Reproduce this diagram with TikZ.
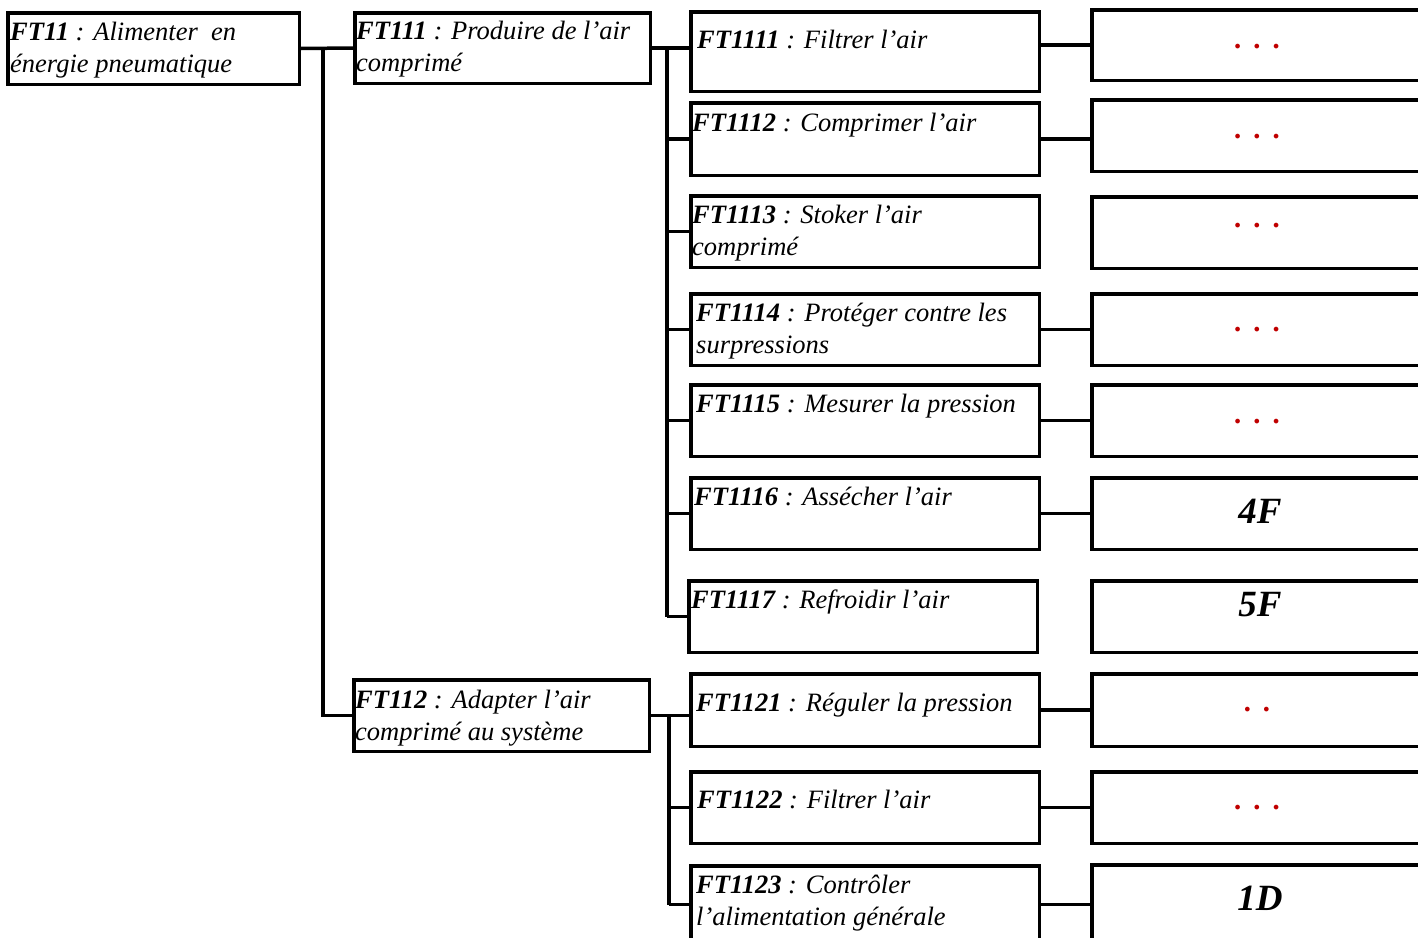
\documentclass[tikz,border=0pt]{standalone}
\usepackage{fontspec}
\setmainfont{Liberation Serif}
\definecolor{dotred}{HTML}{C00000}
\newcommand\mybox[5]{\node[boxst, minimum width={#4-#2-3.5}, minimum height={#5-#3-3.5}] (#1) at ({(#2+#4)/2},{(#3+#5)/2}) {};}
\newcommand\twolines[2]{\vtop{\hbox{\strut #1}\hbox{\strut #2}}}
\newcommand\reddots{.\hspace{12pt}.\hspace{12pt}.}
\newcommand\redtwodots{.\hspace{12pt}.}
\begin{document}
\begin{tikzpicture}[x=1pt, y=-1pt,
  boxst/.style={draw, line width=3.5pt, inner sep=0pt, rectangle},
  conn/.style={line width=3.5pt},
  txt/.style={inner sep=0pt, anchor=base west, font=\fontsize{26.5}{32}\selectfont\itshape},
  big/.style={inner sep=0pt, anchor=center, font=\fontsize{37}{44}\selectfont\bfseries\itshape},
  dts/.style={inner sep=0pt, anchor=base, text=dotred, font=\fontsize{29}{32}\selectfont\bfseries\itshape}]
\useasboundingbox (0,0) rectangle (1418,937);
\clip (0,0) rectangle (1418,937);
% boxes
\mybox{b11}{6}{11}{301}{86}
\mybox{b111}{353}{11}{652}{85}
\mybox{b112}{352}{678}{651}{753}
\mybox{b1111}{689}{10}{1041}{93}
\mybox{b1112}{689}{101}{1041}{177}
\mybox{b1113}{689}{194}{1041}{269}
\mybox{b1114}{689}{292}{1041}{367}
\mybox{b1115}{689}{383}{1041}{458}
\mybox{b1116}{689}{476}{1041}{551}
\mybox{b1117}{687}{579}{1039}{654}
\mybox{b1121}{689}{672}{1041}{748}
\mybox{b1122}{689}{770}{1041}{845}
\mybox{b1123}{689}{864}{1041}{945}
\mybox{r1}{1090}{8}{1430}{82}
\mybox{r2}{1090}{98}{1430}{173}
\mybox{r3}{1090}{195}{1430}{270}
\mybox{r4}{1090}{292}{1430}{367}
\mybox{r5}{1090}{383}{1430}{458}
\mybox{r6}{1090}{476}{1430}{551}
\mybox{r7}{1090}{579}{1430}{654}
\mybox{r8}{1090}{672}{1430}{748}
\mybox{r9}{1090}{770}{1430}{845}
\mybox{r10}{1090}{863}{1430}{945}
% texts
\node[txt] (t11) at (10,40) {\twolines{\textbf{FT11} : Alimenter\ \ en}{énergie pneumatique}};
\node[txt] (t111) at (356,39) {\twolines{\textbf{FT111} : Produire de l’air}{comprimé}};
\node[txt] (t112) at (355,708) {\twolines{\textbf{FT112} : Adapter l’air}{comprimé au système}};
\node[txt] (t1111) at (697,48) {\textbf{FT1111} : Filtrer l’air};
\node[txt] (t1112) at (692,131) {\textbf{FT1112} : Comprimer l’air};
\node[txt] (t1113) at (692,223) {\twolines{\textbf{FT1113} : Stoker l’air}{comprimé}};
\node[txt] (t1114) at (696,321) {\twolines{\textbf{FT1114} : Protéger contre les}{surpressions}};
\node[txt] (t1115) at (696,412) {\textbf{FT1115} : Mesurer la pression};
\node[txt] (t1116) at (694,505) {\textbf{FT1116} : Assécher l’air};
\node[txt] (t1117) at (691,608) {\textbf{FT1117} : Refroidir l’air};
\node[txt] (t1121) at (696,711) {\textbf{FT1121} : Réguler la pression};
\node[txt] (t1122) at (697,808) {\textbf{FT1122} : Filtrer l’air};
\node[txt] (t1123) at (696,893) {\twolines{\textbf{FT1123} : Contrôler}{l’alimentation générale}};
% right texts
\node[dts] (d1) at (1258,48) {\reddots};
\node[dts] (d2) at (1258,138) {\reddots};
\node[dts] (d3) at (1258,227) {\reddots};
\node[dts] (d4) at (1258,331) {\reddots};
\node[dts] (d5) at (1258,423) {\reddots};
\node[big] (l6) at (1260,511) {4F};
\node[big] (l7) at (1260,605) {5F};
\node[dts] (d8) at (1258,711) {\redtwodots};
\node[dts] (d9) at (1258,809) {\reddots};
\node[big] (l10) at (1260,898) {1D};
% connectors level 1
\draw[conn] (b11.east) -- (b111.west);
\coordinate (j1) at (323,48);
\draw[conn] (j1) |- (b112.west);
% FT111 branches
\draw[conn] (b111.east) -- (b111.east -| b1111.west);
\coordinate (j2) at (667,48);
\draw[conn] (j2) -- (j2 |- b1117.west);
\foreach \n in {1112,1113,1114,1115,1116,1117}
  \draw[conn] (j2 |- b\n.west) -- (b\n.west);
% FT112 branches
\draw[conn] (b112.east) -- (b112.east -| b1121.west);
\coordinate (j3) at (669,715);
\draw[conn] (j3) -- (j3 |- b1123.west);
\foreach \n in {1122,1123}
  \draw[conn] (j3 |- b\n.west) -- (b\n.west);
% to right boxes
\draw[conn] (r1.west -| b1111.east) -- (r1.west);
\draw[conn] (b1112.east) -- (b1112.east -| r2.west);
\draw[conn] (b1114.east) -- (b1114.east -| r4.west);
\draw[conn] (b1115.east) -- (b1115.east -| r5.west);
\draw[conn] (b1116.east) -- (b1116.east -| r6.west);
\draw[conn] (b1121.east) -- (b1121.east -| r8.west);
\draw[conn] (b1122.east) -- (b1122.east -| r9.west);
\draw[conn] (b1123.east) -- (b1123.east -| r10.west);
\end{tikzpicture}
\end{document}
